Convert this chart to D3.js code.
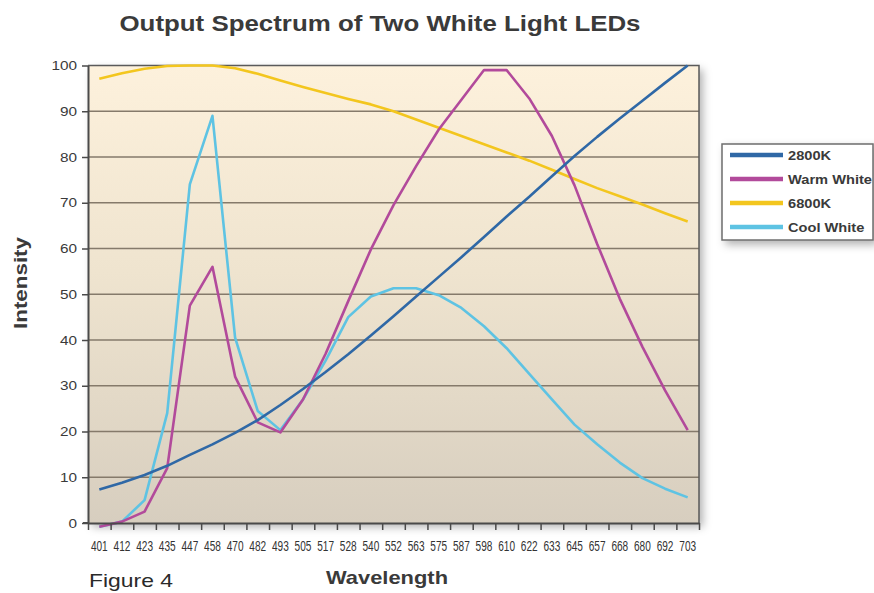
<!DOCTYPE html>
<html>
<head>
<meta charset="utf-8">
<script src="https://cdn.jsdelivr.net/npm/d3@7"></script>
<style>
  html, body { margin: 0; padding: 0; background: #ffffff; }
  svg { display: block; font-family: "Liberation Sans", Arial, Helvetica, sans-serif; }
</style>
</head>
<body>
<svg id="chart" width="874" height="593"></svg>
<script>
// ---- data ----
const wavelengths = [401,412,423,435,447,458,470,482,493,505,517,528,540,552,563,575,587,598,610,622,633,645,657,668,680,692,703];
const k2800 = [7.3,8.8,10.5,12.5,14.9,17.2,19.7,22.5,25.8,29.3,33,36.9,41,45.2,49.5,53.8,58.1,62.5,67,71.3,75.8,80.2,84.4,88.4,92.3,96.2,100];
const warmWhite = [-0.8,0.3,2.5,12,47.5,56,32,22,19.8,27,37,48.5,59.8,69.5,78,86,92.5,99,99,92.8,84.6,73.8,61,49,38.5,29,20.3];
const k6800 = [97.1,98.3,99.3,99.9,100,100,99.4,98.2,96.7,95.3,94,92.7,91.5,90,88.2,86.4,84.6,82.8,81,79.2,77.2,75.2,73.2,71.4,69.6,67.7,65.9];
const coolWhite = [-0.8,0.3,5,24,74,89,40.5,24.5,20.3,27,35.5,45,49.5,51.3,51.3,49.8,47,43,38.2,32.6,27,21.5,17.2,13.2,9.8,7.5,5.6];
const yTicks = [0,10,20,30,40,50,60,70,80,90,100];
const seriesNames = ["2800K","Warm White","6800K","Cool White"];
const seriesColors = ["#2f68a6","#b24a9b","#f3c61e","#5ec3e3"];
const seriesValues = [k2800, warmWhite, k6800, coolWhite];

// ---- layout ----
const svg = d3.select("#chart");
const L = 88, R = 699, T = 65.5, B = 523;

const x = d3.scaleBand().domain(wavelengths).range([L, R]).padding(0);
const xIdx = d3.scaleLinear().domain([0, wavelengths.length]).range([L, R]);
const y = d3.scaleLinear().domain([0, 100]).range([B, T]);

const defs = svg.append("defs");
const grad = defs.append("linearGradient").attr("id","bg").attr("x1",0).attr("y1",0).attr("x2",0).attr("y2",1);
grad.append("stop").attr("offset","0%").attr("stop-color","#fdf1dc");
grad.append("stop").attr("offset","45%").attr("stop-color","#efe4cf");
grad.append("stop").attr("offset","100%").attr("stop-color","#d7cebf");
const f = defs.append("filter").attr("id","shadow").attr("x","-10%").attr("y","-10%").attr("width","130%").attr("height","130%");
f.append("feDropShadow").attr("dx",4).attr("dy",4).attr("stdDeviation",4).attr("flood-color","#000").attr("flood-opacity",0.3);

// plot background
svg.append("rect").attr("x",L).attr("y",T).attr("width",R-L).attr("height",B-T)
  .attr("fill","url(#bg)").attr("filter","url(#shadow)");

// gridlines
svg.append("g").selectAll("line").data(yTicks.filter(d => d > 0 && d < 100)).join("line")
  .attr("x1",L).attr("x2",R).attr("y1",d=>y(d)).attr("y2",d=>y(d))
  .attr("stroke","#857a6b").attr("stroke-width",1.6);

// frame top/right
svg.append("path").attr("d",`M${L},${T}H${R}V${B}`).attr("fill","none").attr("stroke","#5a5a5a").attr("stroke-width",1.5);

// lines (drawn bottom to top)
const line = d3.line().x((d,i)=>x(wavelengths[i]) + x.bandwidth()/2).y(d=>y(d));
const order = [3,2,1,0];
svg.append("g").selectAll("path").data(order).join("path")
  .attr("d", i => line(seriesValues[i]))
  .attr("fill","none").attr("stroke", i => seriesColors[i])
  .attr("stroke-width",2.6).attr("stroke-linejoin","round");

// y axis
const yAxis = svg.append("g").attr("transform",`translate(${L},0)`)
  .call(d3.axisLeft(y).tickValues(yTicks).tickSize(6).tickSizeOuter(0).tickPadding(5));
yAxis.select(".domain").attr("stroke","#4a4a4a").attr("stroke-width",2);
yAxis.selectAll(".tick line").attr("stroke","#4a4a4a").attr("stroke-width",1.5);
yAxis.selectAll("text").attr("font-size","13px").attr("fill","#3a3a3a").attr("font-family","Liberation Sans, Arial, sans-serif");

// x axis: tick marks at category boundaries
const xTickAxis = svg.append("g").attr("transform",`translate(0,${B})`)
  .call(d3.axisBottom(xIdx).tickValues(d3.range(0, wavelengths.length + 1)).tickSize(7).tickSizeOuter(0).tickFormat(""));
xTickAxis.select(".domain").attr("stroke","#4a4a4a").attr("stroke-width",2);
xTickAxis.selectAll(".tick line").attr("stroke","#4a4a4a").attr("stroke-width",1.5);
svg.append("line").attr("x1",L-5).attr("x2",L).attr("y1",B).attr("y2",B).attr("stroke","#4a4a4a").attr("stroke-width",2);

// x axis labels at category centres
const xAxis = svg.append("g").attr("transform",`translate(0,${B})`)
  .call(d3.axisBottom(x).tickSize(0).tickPadding(18));
xAxis.select(".domain").remove();
xAxis.selectAll("text").attr("font-size","14px").attr("fill","#333333");

// titles
svg.append("text").attr("class","title").attr("x",380).attr("y",31).attr("text-anchor","middle")
  .attr("font-size","22px").attr("font-weight","bold").attr("fill","#3a3a3a")
  .attr("textLength",521).attr("lengthAdjust","spacingAndGlyphs")
  .text("Output Spectrum of Two White Light LEDs");
svg.append("text").attr("x",387).attr("y",584).attr("text-anchor","middle")
  .attr("font-size","19px").attr("font-weight","bold").attr("fill","#3a3a3a")
  .attr("textLength",122).attr("lengthAdjust","spacingAndGlyphs")
  .text("Wavelength");
svg.append("text").attr("transform","translate(27,283) rotate(-90)").attr("text-anchor","middle")
  .attr("font-size","18px").attr("font-weight","bold").attr("fill","#3a3a3a")
  .attr("textLength",92).attr("lengthAdjust","spacingAndGlyphs")
  .text("Intensity");
svg.append("text").attr("x",89).attr("y",587)
  .attr("font-size","19px").attr("fill","#2a2a2a")
  .attr("textLength",84).attr("lengthAdjust","spacingAndGlyphs")
  .text("Figure 4");

// legend
const lg = svg.append("g");
lg.append("rect").attr("x",722).attr("y",144).attr("width",151).attr("height",96)
  .attr("fill","#ffffff").attr("stroke","#6e6e6e").attr("stroke-width",1.5).attr("filter","url(#shadow)");
const items = lg.selectAll("g.item").data(seriesNames).join("g").attr("class","item")
  .attr("transform",(d,i)=>`translate(0,${155 + i*24})`);
items.append("line").attr("x1",730).attr("x2",783).attr("y1",0).attr("y2",0)
  .attr("stroke",(d,i)=>seriesColors[i]).attr("stroke-width",4.5);
items.append("text").attr("x",788).attr("y",4.5).attr("font-size","12.5px").attr("font-weight","bold")
  .attr("fill","#3a3a3a").text(d=>d);

// horizontal stretch helper to match the lettering widths of the original
function stretch(sel, factor) {
  sel.each(function() {
    const len = this.getComputedTextLength();
    d3.select(this).attr("textLength", len * factor).attr("lengthAdjust","spacingAndGlyphs");
  });
}
stretch(yAxis.selectAll("text"), 1.18);
stretch(xAxis.selectAll("text"), 0.72);
stretch(items.selectAll("text"), 1.17);
</script>
</body>
</html>
